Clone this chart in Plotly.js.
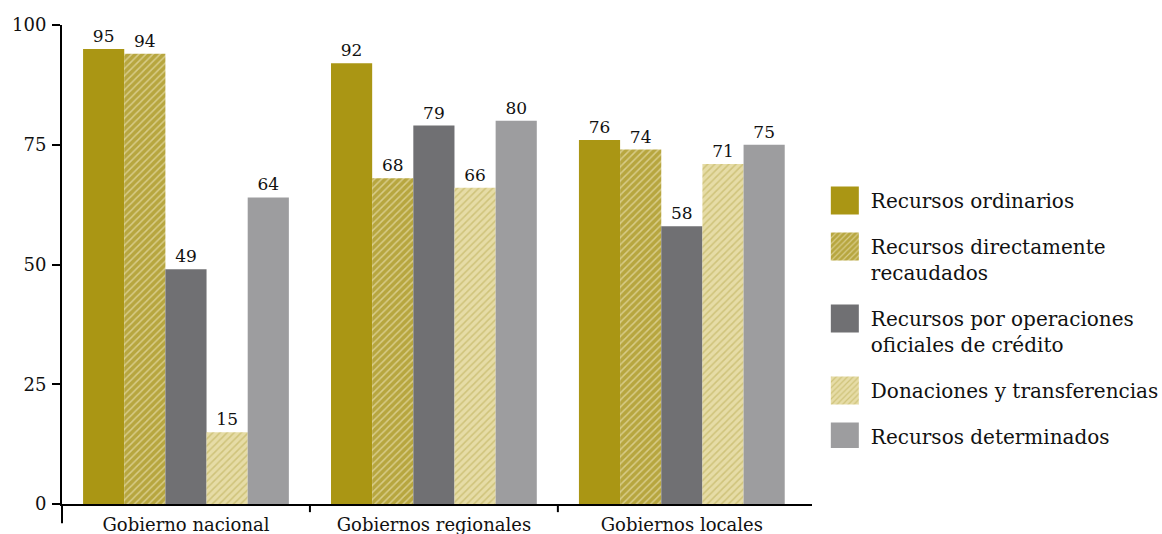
<!DOCTYPE html>
<html><head><meta charset="utf-8">
<script src="https://cdn.plot.ly/plotly-3.0.1.min.js"></script>
<style>html,body{margin:0;padding:0;background:#fff}</style>
</head><body><div id="chart" style="width:1162px;height:534px"></div>
<script>
const categories = ['Gobierno nacional', 'Gobiernos regionales', 'Gobiernos locales'];
const seriesNames = ['Recursos ordinarios', 'Recursos directamente<br>recaudados', 'Recursos por operaciones<br>oficiales de crédito', 'Donaciones y transferencias', 'Recursos determinados'];
const recursosOrdinarios = [95, 92, 76];
const recursosDirectamente = [94, 68, 74];
const recursosOperaciones = [49, 79, 58];
const donacionesTransferencias = [15, 66, 71];
const recursosDeterminados = [64, 80, 75];
const yTickValues = [0, 25, 50, 75, 100];
const yTickLabels = ['0', '25', '50', '75', '100'];

const seriesValues = [recursosOrdinarios, recursosDirectamente, recursosOperaciones, donacionesTransferencias, recursosDeterminados];
const styles = [
  {color: '#aa9614'},
  {color: '#b7a63f', pattern: {shape: '/', bgcolor: '#b7a63f', fgcolor: '#d8cc88', size: 5, solidity: 0.3}},
  {color: '#707073'},
  {color: '#e6dca6', pattern: {shape: '/', bgcolor: '#e6dca6', fgcolor: '#cfc37a', size: 5, solidity: 0.3}},
  {color: '#9d9d9f'}
];
const FONT = 'DejaVu Serif';

const traces = seriesValues.map((vals, i) => ({
  type: 'bar',
  name: seriesNames[i],
  x: categories,
  y: vals,
  legendgroup: 'g' + i,
  marker: Object.assign({line: {width: 0}}, styles[i]),
  text: vals.map(String),
  textposition: 'outside',
  textfont: {family: FONT, size: 17, color: '#111'},
  cliponaxis: false,
  hoverinfo: 'skip'
}));

const layout = {
  width: 1162, height: 534,
  margin: {l: 62, r: 350, t: 25, b: 30},
  paper_bgcolor: '#fff', plot_bgcolor: '#fff',
  font: {family: FONT, color: '#111'},
  barmode: 'group', bargap: 0.17, bargroupgap: 0,
  showlegend: true,
  legend: {
    xref: 'container', yref: 'container',
    x: 0.715, xanchor: 'left', y: 0.661, yanchor: 'top',
    font: {family: FONT, size: 20, color: '#111'},
    traceorder: 'grouped', tracegroupgap: 17, valign: 'top',
    itemwidth: 30, bgcolor: 'rgba(0,0,0,0)'
  },
  xaxis: {
    type: 'category', range: [-0.5, 2.525],
    showline: true, linecolor: '#000', linewidth: 2,
    ticks: '', showgrid: false, zeroline: false,
    tickfont: {family: FONT, size: 18, color: '#111'},
    ticklabelstandoff: 3
  },
  yaxis: {
    range: [0, 100],
    tickvals: yTickValues, ticktext: yTickLabels,
    showline: true, linecolor: '#000', linewidth: 2,
    ticks: 'outside', ticklen: 8, tickwidth: 2, tickcolor: '#000',
    showgrid: false, zeroline: false,
    tickfont: {family: FONT, size: 18, color: '#111'},
    ticklabelstandoff: 2
  },
  shapes: [
    {type: 'line', xref: 'x', yref: 'paper', x0: 0.5, x1: 0.5, y0: 0, y1: -0.017, line: {color: '#000', width: 2}},
    {type: 'line', xref: 'x', yref: 'paper', x0: 1.5, x1: 1.5, y0: 0, y1: -0.017, line: {color: '#000', width: 2}},
    {type: 'line', xref: 'paper', yref: 'paper', x0: 0, x1: 0, y0: 0, y1: -0.04, line: {color: '#000', width: 2}}
  ]
};

Plotly.newPlot('chart', traces, layout, {staticPlot: true, displayModeBar: false}).then(gd => {
  gd.querySelectorAll('.legend .legendpoints path').forEach(p => {
    p.setAttribute('d', 'M8,14H-22V-14H8Z');
  });
});
</script></body></html>
